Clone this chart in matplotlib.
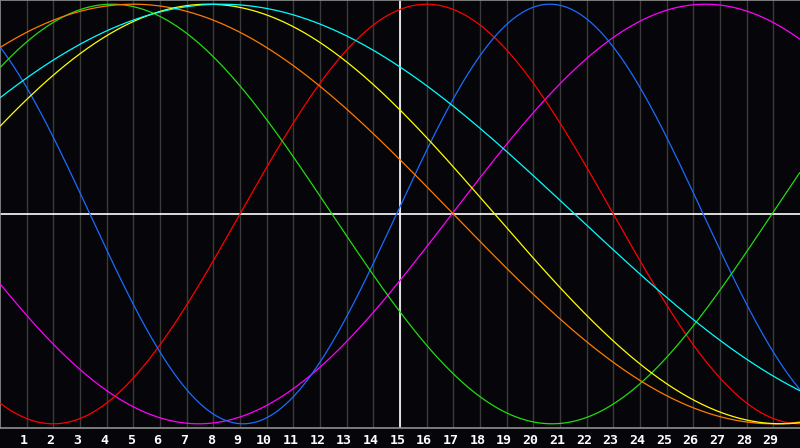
#!/usr/bin/env python3
# Biorhythm style chart: seven sine cycles over a 30 day window

import numpy as np
import matplotlib
matplotlib.use('Agg')
import matplotlib.pyplot as plt

# cycle lengths in days and the day (on the x axis) where each one peaks
names = ['physical', 'emotional', 'intellectual', 'intuitive', 'aesthetic', 'awareness', 'spiritual']
periods = [23, 28, 33, 38, 43, 48, 53]
peak_days = [20.62, 16.0, 4.2, 26.45, 7.8, 5.0, 8.3]
colors = ['#1a6cff', '#ff0000', '#20dc10', '#ff00ff', '#ffff00', '#ff7a00', '#00ffff']

day_labels = [str(d) for d in range(1, 30)]
mid_day = 15

BG = '#060509'

def cycle(t, period, peak):
    return np.cos(2*np.pi*(t - peak)/period)

def main():
    fig = plt.figure(figsize=(8, 4.48), dpi=100, facecolor=BG)
    ax = fig.add_axes([0, 20/448, 1, 428/448])
    ax.set_facecolor(BG)

    # day grid
    for d in range(1, 30):
        ax.axvline(d, color='#3a3a3a', lw=1, zorder=1)
    ax.axvline(mid_day, color='white', lw=1.2, zorder=2)
    ax.axhline(0, color='white', lw=1.2, zorder=2)

    t = np.linspace(0, 30, 1200)
    order = [3, 1, 0, 2, 5, 4, 6]
    for i in order:
        ax.plot(t, cycle(t, periods[i], peak_days[i]), color=colors[i],
                lw=0.9, zorder=3, solid_capstyle='butt')

    ax.set_xlim(0, 30)
    ax.set_ylim(-1.02, 1.02)
    ax.set_yticks([])
    ax.set_xticks([d - 0.1 for d in range(1, 30)])
    ax.set_xticklabels(day_labels, color='white', fontsize=9.5,
                       fontweight='bold', family='DejaVu Sans Mono')
    ax.tick_params(axis='x', length=0, pad=4)

    for s in ['left', 'top', 'bottom']:
        ax.spines[s].set_color('#909090')
        ax.spines[s].set_linewidth(1.2)
    ax.spines['right'].set_visible(False)

    fig.savefig('out.png', dpi=100, facecolor=BG)

if __name__ == '__main__':
    main()
